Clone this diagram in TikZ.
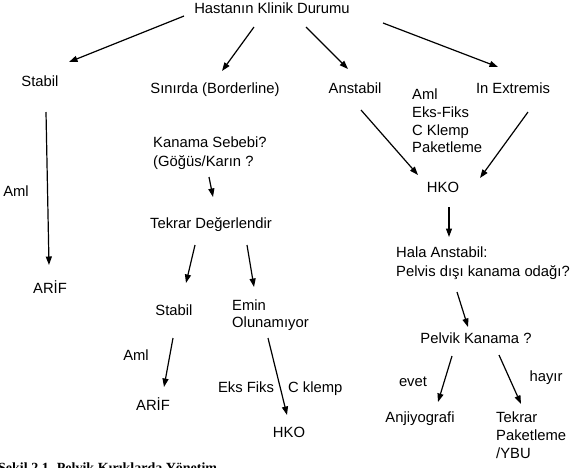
\documentclass[tikz,border=0pt]{standalone}
\usepackage{fontspec}
\setmainfont{Liberation Sans}
\newfontfamily\capfont{Liberation Serif}
\usetikzlibrary{arrows.meta}
\begin{document}
\begin{tikzpicture}[x=1pt,y=-1pt,
  lbl/.style={inner sep=0pt, font=\fontsize{14.8}{18}\selectfont, anchor=base},
  lbll/.style={lbl, anchor=base west},
  arr/.style={line width=1.2pt, -{Triangle[length=8.5pt,width=6pt]}}]
\useasboundingbox (0,0) rectangle (572,467);
% nodes
\node[lbl] (top) at (272,13.5) {Hastanın Klinik Durumu};
\node[lbl] (stabil) at (40,86) {Stabil};
\node[lbl] (sinirda) at (215,93) {Sınırda (Borderline)};
\node[lbl] (anstabil) at (355,93) {Anstabil};
\node[lbl] (extremis) at (513,93) {In Extremis};
\node[lbll] (t1) at (412,99) {Aml};
\node[lbll] (t2) at (412,117) {Eks-Fiks};
\node[lbll] (t3) at (412,135) {C Klemp};
\node[lbll] (t4) at (412,152) {Paketleme};
\node[lbl] (hko1) at (443,192) {HKO};
\node[lbll] (hala1) at (396,257) {Hala Anstabil:};
\node[lbll] (hala2) at (396,276) {Pelvis dışı kanama odağı?};
\node[lbl] (pelvik) at (476,343) {Pelvik Kanama ?};
\node[lbl] (evet) at (413,386) {evet};
\node[lbl] (hayir) at (546,381) {hayır};
\node[lbl] (anji) at (420,422) {Anjiyografi};
\node[lbll] (tp1) at (496,422) {Tekrar};
\node[lbll] (tp2) at (496,440) {Paketleme};
\node[lbll] (tp3) at (496,458) {/YBU};
\node[lbl] (aml1) at (16,196) {Aml};
\node[lbl] (arif1) at (50,293) {ARİF};
\node[lbll] (kan1) at (153,147) {Kanama Sebebi?};
\node[lbll] (kan2) at (153,166) {(Göğüs/Karın ?};
\node[lbl] (tekrar) at (211,228) {Tekrar Değerlendir};
\node[lbl] (stabil2) at (174,315) {Stabil};
\node[lbll] (emin1) at (232,310) {Emin};
\node[lbll] (emin2) at (232,327) {Olunamıyor};
\node[lbl] (aml2) at (136,360) {Aml};
\node[lbl] (arif2) at (153,410) {ARİF};
\node[lbl] (eks) at (246,392) {Eks Fiks};
\node[lbll] (ck) at (288,392) {C klemp};
\node[lbl] (hko2) at (289,437) {HKO};
\begin{scope}
\clip (0,0) rectangle (572,467);
\node[inner sep=0pt, anchor=base west, font=\capfont\bfseries\fontsize{14}{16}\selectfont] (cap) at (-2,472) {Şekil 2.1. Pelvik Kırıklarda Yönetim};
\end{scope}
% connector end points
\coordinate (a1s) at (184,16);  \coordinate (a1e) at (69,62);
\coordinate (a2s) at (254,27);  \coordinate (a2e) at (222,71);
\coordinate (a3s) at (306,27);  \coordinate (a3e) at (348,69);
\coordinate (a4s) at (383,23);  \coordinate (a4e) at (498,67);
\coordinate (a5s) at (46,112);  \coordinate (a5e) at (49,265);
\coordinate (a6s) at (361,110); \coordinate (a6e) at (418,175);
\coordinate (a7s) at (528,112); \coordinate (a7e) at (480,178);
\coordinate (a8s) at (209,177); \coordinate (a8e) at (213,197);
\coordinate (a9s) at (195,245); \coordinate (a9e) at (186,283);
\coordinate (a10s) at (247,245); \coordinate (a10e) at (254,287);
\coordinate (a11s) at (173,338); \coordinate (a11e) at (164,387);
\coordinate (a12s) at (268,338); \coordinate (a12e) at (287,415);
\coordinate (a13s) at (449,207); \coordinate (a13e) at (449,237);
\coordinate (a14s) at (457,292); \coordinate (a14e) at (468,327);
\coordinate (a15s) at (452,356); \coordinate (a15e) at (438,402);
\coordinate (a16s) at (499,355); \coordinate (a16e) at (521,404);
\foreach \i in {1,...,16} \draw[arr] (a\i s) -- (a\i e);
\end{tikzpicture}
\end{document}
